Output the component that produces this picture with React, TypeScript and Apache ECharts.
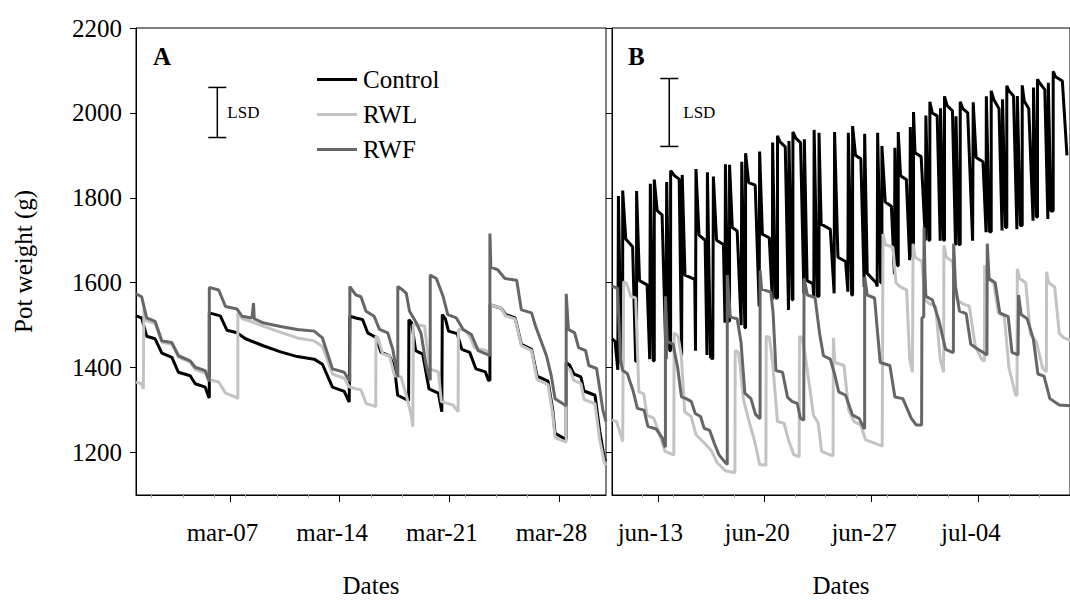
import React, { useEffect, useRef } from "react";
import * as echarts from "echarts";

// ---------- data (x = day of month; panel B: day counted from May 31, so jul-04 = 34) ----------
const seriesNames = ["Control", "RWL", "RWF"];
const seriesColors = ["#000000", "#c3c3c3", "#666666"];
const yTicks = [1200, 1400, 1600, 1800, 2000, 2200];
const xTicksA = [7, 14, 21, 28];
const xTicksB = [13, 20, 27, 34];
const xMinorA = [2, 4, 6, 8, 10, 12, 16, 18, 20, 22, 24, 26, 30];
const xMinorB = [12, 14, 16, 18, 22, 24, 26, 28, 30, 32, 36, 38];
const lsdA = [6.19, 1942, 2060];
const lsdB = [13.75, 1921, 2081];

const ctrlA = [
  [1.0, 1522], [1.36, 1517], [1.68, 1474], [2.22, 1468], [2.65, 1434], [3.29, 1424], [3.71, 1389], [4.46, 1381],
  [4.78, 1362], [5.42, 1354], [5.64, 1331], [5.68, 1329], [5.68, 1529], [6.38, 1522], [6.81, 1488], [7.45, 1482],
  [7.99, 1468], [9.16, 1451], [10.23, 1437], [11.3, 1426], [12.37, 1420], [12.9, 1408], [13.54, 1354], [14.29, 1344],
  [14.61, 1319], [14.65, 1319], [14.65, 1521], [15.04, 1517], [15.47, 1513], [15.79, 1482], [16.32, 1471], [16.64, 1436],
  [17.18, 1428], [17.5, 1400], [17.7, 1335], [18.4, 1322], [18.42, 1322], [18.42, 1513], [18.6, 1505], [18.85, 1440],
  [19.3, 1432], [19.7, 1350], [20.3, 1340], [20.52, 1296], [20.55, 1296], [20.55, 1525], [20.75, 1515], [20.95, 1486],
  [21.5, 1480], [21.8, 1443], [22.3, 1436], [22.7, 1397], [23.3, 1390], [23.5, 1370], [23.59, 1370], [23.59, 1548],
  [24.3, 1540], [24.6, 1525], [25.2, 1517], [25.6, 1455], [26.25, 1443], [26.6, 1380], [27.3, 1368], [27.6, 1300],
  [27.75, 1245], [28.4, 1232], [28.46, 1232], [28.46, 1412], [28.7, 1405], [28.95, 1385], [29.4, 1378], [29.6, 1345],
  [30.3, 1335], [30.6, 1250], [30.9, 1185], [31.0, 1180],
];
const rwlA = [
  [1.0, 1366], [1.35, 1362], [1.47, 1350], [1.5, 1350], [1.5, 1540], [1.68, 1510], [2.22, 1504], [2.65, 1460],
  [3.29, 1455], [3.71, 1425], [4.46, 1413], [4.78, 1395], [5.42, 1388], [5.64, 1372], [6.28, 1366], [6.71, 1340],
  [7.4, 1330], [7.5, 1327], [7.5, 1529], [7.8, 1515], [8.4, 1508], [9.16, 1497], [10.23, 1483], [11.3, 1470],
  [12.37, 1463], [12.9, 1450], [13.54, 1385], [14.29, 1375], [14.61, 1355], [15.04, 1350], [15.36, 1348], [15.68, 1316],
  [16.3, 1308], [16.32, 1308], [16.32, 1474], [16.43, 1471], [16.75, 1432], [17.18, 1428], [17.5, 1381], [17.92, 1378],
  [18.25, 1335], [18.57, 1289], [18.67, 1261], [18.7, 1261], [18.7, 1502], [19.42, 1498], [19.74, 1397], [20.3, 1390],
  [20.49, 1320], [21.24, 1312], [21.56, 1296], [21.58, 1296], [21.58, 1490], [22.0, 1488], [22.3, 1474], [22.6, 1447],
  [23.37, 1440], [23.59, 1430], [23.59, 1548], [24.3, 1540], [24.6, 1522], [25.2, 1515], [25.6, 1452], [26.25, 1440],
  [26.6, 1372], [27.3, 1360], [27.6, 1290], [27.75, 1235], [28.4, 1225], [28.46, 1225], [28.46, 1400], [28.7, 1395],
  [28.95, 1370], [29.4, 1362], [29.6, 1325], [30.3, 1315], [30.6, 1230], [30.9, 1175], [31.0, 1170],
];
const rwfA = [
  [1.0, 1574], [1.36, 1567], [1.68, 1517], [2.22, 1509], [2.65, 1463], [3.29, 1459], [3.71, 1428], [4.46, 1416],
  [4.78, 1401], [5.42, 1393], [5.64, 1370], [5.68, 1368], [5.68, 1589], [6.28, 1583], [6.71, 1544], [7.45, 1538],
  [7.77, 1521], [8.4, 1517], [8.5, 1552], [8.55, 1515], [9.16, 1505], [10.23, 1497], [11.3, 1490], [12.37, 1486],
  [12.9, 1470], [13.54, 1397], [14.29, 1389], [14.61, 1370], [14.65, 1368], [14.65, 1591], [15.04, 1571], [15.36, 1567],
  [15.68, 1533], [16.2, 1521], [16.54, 1490], [17.07, 1482], [17.39, 1443], [17.6, 1400], [17.71, 1378], [17.71, 1591],
  [18.03, 1583], [18.25, 1575], [18.46, 1533], [18.9, 1505], [19.2, 1480], [19.5, 1410], [19.63, 1389], [19.78, 1370],
  [19.78, 1618], [20.17, 1610], [20.6, 1568], [20.9, 1525], [21.45, 1517], [21.88, 1490], [22.41, 1478], [22.84, 1440],
  [23.37, 1432], [23.59, 1428], [23.59, 1716], [23.65, 1637], [24.1, 1630], [24.55, 1610], [25.3, 1606], [25.6, 1536],
  [26.25, 1529], [26.5, 1498], [27.2, 1428], [27.5, 1382], [27.75, 1327], [28.2, 1316], [28.46, 1310], [28.46, 1574],
  [28.6, 1490], [29.0, 1482], [29.25, 1447], [29.7, 1440], [29.9, 1405], [30.4, 1398], [30.6, 1350], [30.8, 1300],
  [31.0, 1273],
];

const ctrlB = [
  [10.0, 1468], [10.2, 1462], [10.38, 1395],
  [10.42, 1395], [10.42, 1804], [10.6, 1410],
  [10.7, 1410], [10.7, 1817], [10.9, 1703], [11.35, 1685], [11.55, 1415],
  [11.61, 1415], [11.61, 1816], [11.8, 1605], [12.3, 1595], [12.47, 1420],
  [12.51, 1420], [12.51, 1833], [12.7, 1416],
  [12.77, 1416], [12.77, 1843], [12.96, 1770], [13.28, 1760], [13.54, 1420],
  [13.58, 1420], [13.58, 1837], [13.78, 1440],
  [13.84, 1440], [13.84, 1864], [14.1, 1852], [14.4, 1844], [14.56, 1428],
  [14.6, 1428], [14.6, 1854], [14.78, 1618], [15.42, 1608], [15.47, 1440],
  [15.5, 1440], [15.5, 1868], [15.7, 1712], [16.1, 1700], [16.22, 1430],
  [16.25, 1430], [16.25, 1860], [16.45, 1425], [16.6, 1420],
  [16.64, 1420], [16.64, 1850], [16.85, 1700], [17.3, 1690], [17.4, 1506],
  [17.43, 1506], [17.43, 1879], [17.6, 1510],
  [17.7, 1510], [17.7, 1878], [17.88, 1730], [18.2, 1722], [18.46, 1500],
  [18.5, 1500], [18.5, 1885], [18.7, 1494],
  [18.75, 1494], [18.75, 1905], [18.95, 1836], [19.38, 1830], [19.64, 1544],
  [19.67, 1544], [19.67, 1909], [19.85, 1714], [20.3, 1706], [20.5, 1560],
  [20.52, 1560], [20.52, 1930], [20.72, 1564],
  [20.84, 1564], [20.84, 1946], [21.0, 1932], [21.35, 1920], [21.56, 1536],
  [21.59, 1536], [21.59, 1934], [21.8, 1560],
  [21.85, 1560], [21.85, 1955], [22.05, 1940], [22.35, 1930], [22.57, 1575],
  [22.6, 1575], [22.6, 1938], [22.78, 1605], [23.15, 1598], [23.22, 1567],
  [23.24, 1567], [23.24, 1960], [23.45, 1568],
  [23.56, 1568], [23.56, 1953], [23.7, 1738], [24.3, 1726], [24.55, 1575],
  [24.58, 1575], [24.58, 1955], [24.8, 1660], [25.3, 1650], [25.45, 1579],
  [25.48, 1579], [25.48, 1953], [25.7, 1571],
  [25.76, 1571], [25.76, 1969], [25.95, 1900], [26.3, 1892], [26.52, 1590],
  [26.55, 1590], [26.55, 1951], [26.72, 1622], [27.3, 1600], [27.37, 1591],
  [27.4, 1591], [27.4, 1953], [27.6, 1600],
  [27.68, 1600], [27.68, 1922], [27.9, 1790], [28.3, 1780], [28.5, 1620],
  [28.53, 1620], [28.53, 1918], [28.7, 1640],
  [28.75, 1640], [28.75, 1955], [28.9, 1852], [29.28, 1843], [29.5, 1653],
  [29.54, 1653], [29.54, 1967], [29.7, 1660],
  [29.75, 1660], [29.75, 2002], [29.85, 1906], [30.25, 1897], [30.53, 1699],
  [30.56, 1699], [30.56, 1994], [30.75, 1700],
  [30.82, 1700], [30.82, 2026], [30.98, 2000], [31.3, 1993], [31.5, 1699],
  [31.52, 1699], [31.52, 2011], [31.72, 1700],
  [31.78, 1700], [31.78, 2039], [31.95, 2017], [32.3, 2005], [32.5, 1688],
  [32.53, 1688], [32.53, 1992], [32.72, 1690],
  [32.81, 1690], [32.81, 2026], [32.98, 2010], [33.3, 2000], [33.62, 1699],
  [33.66, 1699], [33.66, 2025], [33.85, 1895], [34.3, 1885], [34.5, 1719],
  [34.52, 1719], [34.52, 2039], [34.72, 1720],
  [34.84, 1720], [34.84, 2052], [35.0, 2032], [35.35, 2010], [35.55, 1723],
  [35.58, 1723], [35.58, 2032], [35.78, 1730],
  [35.86, 1730], [35.86, 2064], [36.0, 2052], [36.3, 2040], [36.52, 1726],
  [36.55, 1726], [36.55, 2040], [36.75, 1735],
  [36.87, 1735], [36.87, 2065], [37.0, 2028], [37.3, 2010], [37.58, 1746],
  [37.61, 1746], [37.61, 2060], [37.8, 1755],
  [37.87, 1755], [37.87, 2079], [38.0, 2071], [38.35, 2055], [38.55, 1750],
  [38.58, 1750], [38.58, 2071], [38.75, 1769],
  [38.9, 1769], [38.9, 2098], [39.05, 2085], [39.5, 2075], [39.8, 1900],
];
const rwlB = [
  [10.0, 1277], [10.3, 1273], [10.7, 1226], [10.74, 1226],
  [10.76, 1602], [10.93, 1600], [11.23, 1568], [11.55, 1564], [11.76, 1343], [12.08, 1338], [12.3, 1288], [12.73, 1281],
  [13.05, 1250], [13.47, 1203], [14.0, 1195], [14.05, 1195],
  [14.07, 1482], [14.33, 1474], [14.54, 1428], [14.76, 1296], [15.18, 1285], [15.5, 1242], [16.14, 1219], [16.5, 1205],
  [16.89, 1176], [17.43, 1157], [17.96, 1153], [18.05, 1153],
  [18.07, 1440], [18.28, 1436], [18.39, 1405], [18.6, 1327], [18.92, 1281], [19.35, 1226], [19.67, 1172], [20.08, 1170],
  [20.1, 1474], [20.31, 1471], [20.52, 1412], [20.84, 1273], [21.27, 1269], [21.59, 1226], [21.91, 1195], [22.26, 1190],
  [22.28, 1474], [22.45, 1470], [22.66, 1428], [23.2, 1288], [23.5, 1270], [23.73, 1203], [24.26, 1195], [24.48, 1192],
  [24.5, 1470], [24.6, 1412], [25.2, 1405], [25.5, 1300], [25.86, 1273], [26.29, 1265], [26.61, 1230], [27.2, 1222],
  [27.7, 1215],
  [27.75, 1715], [27.9, 1690], [28.4, 1684], [28.6, 1600], [28.85, 1591], [29.3, 1583], [29.5, 1420], [29.68, 1389],
  [29.72, 1692], [29.85, 1660], [30.3, 1650], [30.5, 1560], [30.8, 1550], [31.2, 1545], [31.5, 1420], [31.72, 1389],
  [31.74, 1688], [31.9, 1660], [32.3, 1650], [32.6, 1560], [33.0, 1550], [33.4, 1545], [33.8, 1450], [34.2, 1420],
  [34.39, 1415],
  [34.41, 1641], [34.6, 1610], [35.0, 1600], [35.3, 1530], [35.7, 1520], [36.0, 1400], [36.44, 1335], [36.53, 1335],
  [36.55, 1633], [36.7, 1610], [37.1, 1600], [37.4, 1480], [37.8, 1460], [38.2, 1400], [38.45, 1390],
  [38.47, 1626], [38.6, 1600], [39.0, 1590], [39.3, 1480], [39.6, 1470], [40.0, 1465],
];
const rwfB = [
  [10.0, 1592], [10.37, 1587], [10.55, 1420], [10.7, 1393], [11.0, 1386], [11.4, 1343], [11.66, 1304], [12.1, 1300],
  [12.35, 1262], [12.9, 1255], [13.3, 1234], [13.45, 1215], [13.5, 1213],
  [13.5, 1568], [13.62, 1462], [14.0, 1455], [14.3, 1400], [14.55, 1331], [14.86, 1327], [15.2, 1320], [15.45, 1292],
  [15.8, 1285], [16.04, 1257], [16.4, 1252], [16.7, 1222], [17.0, 1195], [17.43, 1176], [17.55, 1172],
  [17.55, 1618], [17.75, 1519], [18.2, 1515], [18.45, 1460], [18.7, 1340], [19.1, 1327], [19.4, 1290], [19.65, 1281],
  [19.7, 1281], [19.7, 1629], [19.8, 1585], [20.4, 1578], [20.55, 1530], [20.74, 1393], [21.17, 1389], [21.5, 1330],
  [21.81, 1320], [22.13, 1316], [22.34, 1281], [22.56, 1276],
  [22.58, 1276], [22.58, 1610], [22.8, 1571], [23.3, 1565], [23.6, 1480], [23.85, 1428], [24.3, 1420], [24.58, 1385],
  [24.85, 1343], [25.3, 1335], [25.76, 1288], [26.2, 1280], [26.5, 1257],
  [26.55, 1257], [26.55, 1614], [26.72, 1571], [27.2, 1564], [27.4, 1480], [27.57, 1412], [28.2, 1405], [28.53, 1331],
  [29.05, 1327], [29.6, 1281], [29.92, 1265], [30.28, 1265],
  [30.3, 1265], [30.3, 1517], [30.42, 1520], [30.44, 1730], [30.5, 1620], [30.56, 1568], [30.98, 1560], [31.4, 1513],
  [31.85, 1443], [32.3, 1436], [32.36, 1436],
  [32.38, 1436], [32.38, 1692], [32.5, 1591], [32.76, 1533], [33.2, 1527], [33.5, 1455], [33.9, 1445], [34.3, 1436],
  [34.56, 1430],
  [34.58, 1430], [34.58, 1692], [34.7, 1610], [35.1, 1600], [35.4, 1529], [35.95, 1520], [36.2, 1436], [36.6, 1430],
  [36.63, 1430], [36.63, 1571], [36.8, 1525], [37.2, 1515], [37.6, 1467], [37.9, 1385], [38.3, 1380], [38.68, 1327],
  [39.3, 1312], [40.0, 1310],
];

const panelA = [ctrlA, rwlA, rwfA];
const panelB = [ctrlB, rwlB, rwfB];

// ---------- chart ----------
const FONT = "'Liberation Serif', 'Times New Roman', serif";
const FS = 25;
const pad2 = (n: number) => (n < 10 ? "0" + n : "" + n);
const fmtA = (v: number) => "mar-" + pad2(Math.round(v));
const fmtB = (v: number) => (v <= 30 ? "jun-" + pad2(Math.round(v)) : "jul-" + pad2(Math.round(v - 30)));

function lsdRender(textDx: number) {
  return (params: any, api: any) => {
    const x = api.value(0);
    const lo = api.value(1);
    const hi = api.value(2);
    const pt = api.coord([x, hi]);
    const pb = api.coord([x, lo]);
    const half = 9;
    const st = { stroke: "#000", lineWidth: 1.5 };
    return {
      type: "group",
      children: [
        { type: "line", shape: { x1: pt[0], y1: pt[1], x2: pb[0], y2: pb[1] }, style: st },
        { type: "line", shape: { x1: pt[0] - half, y1: pt[1], x2: pt[0] + half, y2: pt[1] }, style: st },
        { type: "line", shape: { x1: pb[0] - half, y1: pb[1], x2: pb[0] + half, y2: pb[1] }, style: st },
        {
          type: "text",
          style: {
            text: "LSD",
            x: pt[0] + textDx,
            y: (pt[1] + pb[1]) / 2,
            fill: "#000",
            font: "17px " + FONT,
            textAlign: "left",
            textVerticalAlign: "middle",
            align: "left",
            verticalAlign: "middle",
          },
        },
      ],
    };
  };
}

function xMain(grid: number, min: number, max: number, ticks: number[], fmt: (v: number) => string) {
  return {
    gridIndex: grid,
    type: "value",
    min,
    max,
    position: "bottom",
    axisLine: { show: true, lineStyle: { color: "#000", width: 1 } },
    axisTick: { show: true, customValues: ticks, length: 7, lineStyle: { color: "#000", width: 1 } },
    axisLabel: {
      show: true,
      customValues: ticks,
      formatter: fmt,
      color: "#000",
      fontFamily: FONT,
      fontSize: FS,
      margin: 25,
      padding: [0, 15, 0, 0],
    },
    splitLine: { show: false },
    name: "Dates",
    nameLocation: "middle",
    nameGap: 78,
    nameTextStyle: { color: "#000", fontFamily: FONT, fontSize: FS },
  };
}
function xMinor(grid: number, min: number, max: number, ticks: number[]) {
  return {
    gridIndex: grid,
    type: "value",
    min,
    max,
    position: "bottom",
    axisLine: { show: false },
    axisTick: { show: true, customValues: ticks, length: 3, lineStyle: { color: "#aaa", width: 1 } },
    axisLabel: { show: false },
    splitLine: { show: false },
  };
}

export default function App() {
  const ref = useRef<HTMLDivElement>(null);
  useEffect(() => {
    if (!ref.current) return;
    const chart = echarts.init(ref.current, null, { renderer: "svg" });
    const series: any[] = [];
    [panelA, panelB].forEach((panel, p) => {
      panel.forEach((data, i) => {
        series.push({
          type: "line",
          name: seriesNames[i],
          xAxisIndex: p * 2,
          yAxisIndex: p,
          data,
          showSymbol: false,
          symbol: "none",
          lineStyle: { color: seriesColors[i], width: 3 },
          itemStyle: { color: seriesColors[i] },
          z: 2 + i,
          silent: true,
        });
      });
    });
    series.push({ type: "custom", xAxisIndex: 0, yAxisIndex: 0, data: [lsdA], renderItem: lsdRender(10), z: 10, silent: true });
    series.push({ type: "custom", xAxisIndex: 2, yAxisIndex: 1, data: [lsdB], renderItem: lsdRender(14), z: 10, silent: true });

    const option: any = {
      animation: false,
      backgroundColor: "#fff",
      grid: [
        { left: 136, top: 28, width: 470, height: 472, show: true, borderColor: "#000", borderWidth: 1, backgroundColor: "transparent" },
        { left: 612, top: 28, width: 468, height: 472, show: true, borderColor: "#000", borderWidth: 1, backgroundColor: "transparent" },
      ],
      xAxis: [
        xMain(0, 1, 31, xTicksA, fmtA),
        xMinor(0, 1, 31, xMinorA),
        xMain(1, 10, 40, xTicksB, fmtB),
        xMinor(1, 10, 40, xMinorB),
      ],
      yAxis: [
        {
          gridIndex: 0,
          type: "value",
          min: 1100,
          max: 2200,
          axisLine: { show: true, lineStyle: { color: "#000" } },
          axisTick: { show: true, customValues: yTicks, length: 6, lineStyle: { color: "#000" } },
          axisLabel: {
            show: true,
            customValues: yTicks,
            formatter: (v: number) => String(Math.round(v)),
            color: "#000",
            fontFamily: FONT,
            fontSize: FS,
            margin: 14,
          },
          splitLine: { show: false },
          name: "Pot weight (g)",
          nameLocation: "middle",
          nameRotate: 90,
          nameGap: 100,
          nameTextStyle: { color: "#000", fontFamily: FONT, fontSize: FS },
        },
        {
          gridIndex: 1,
          type: "value",
          min: 1100,
          max: 2200,
          axisLine: { show: true, lineStyle: { color: "#000" } },
          axisTick: { show: true, customValues: yTicks, length: 6, lineStyle: { color: "#000" } },
          axisLabel: { show: false },
          splitLine: { show: false },
        },
      ],
      legend: {
        data: seriesNames,
        orient: "vertical",
        left: 312,
        top: 62,
        itemWidth: 40,
        itemHeight: 3,
        itemGap: 10,
        icon: "rect",
        selectedMode: false,
        textStyle: { color: "#000", fontFamily: FONT, fontSize: FS, padding: [0, 0, 0, 1] },
      },
      graphic: [
        { type: "text", left: 153, top: 44, style: { text: "A", fill: "#000", font: "bold " + FS + "px " + FONT } },
        { type: "text", left: 628, top: 44, style: { text: "B", fill: "#000", font: "bold " + FS + "px " + FONT } },
      ],
      series,
    };
    chart.setOption(option);
    return () => chart.dispose();
  }, []);
  return (
    <div
      ref={ref}
      style={{ position: "fixed", left: 0, top: 0, width: 1070, height: 603, background: "#fff" }}
    />
  );
}
